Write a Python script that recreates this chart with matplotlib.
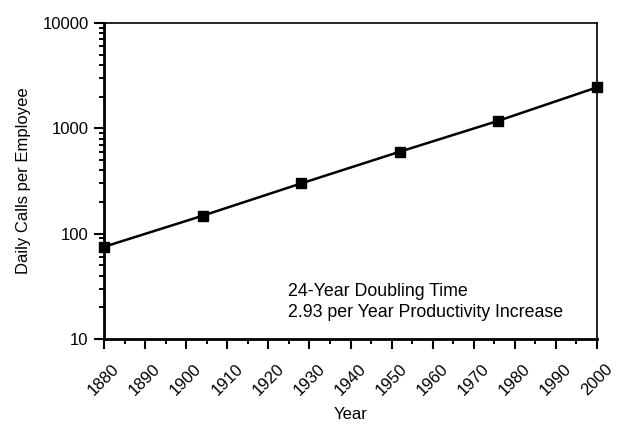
import matplotlib.pyplot as plt
from matplotlib.ticker import MultipleLocator, LogLocator, NullFormatter

plt.rcParams['font.family'] = ['Liberation Sans', 'DejaVu Sans']

years = [1880, 1904, 1928, 1952, 1976, 2000]
calls = [75, 148, 300, 600, 1180, 2450]
y_ticks = [10, 100, 1000, 10000]
y_tick_labels = ['10', '100', '1000', '10000']
note_lines = ['24-Year Doubling Time', '2.93 per Year Productivity Increase']

fig = plt.figure(figsize=(6.2, 4.24), dpi=100)
ax = fig.add_axes([104 / 620, 1 - 339 / 424, 493 / 620, 316 / 424])

ax.plot(years, calls, color='black', linewidth=1.8, marker='s',
        markersize=7, clip_on=False, zorder=3)

ax.set_yscale('log')
ax.set_ylim(10, 10000)
ax.set_xlim(1880, 2000)
ax.set_yticks(y_ticks)
ax.set_yticklabels(y_tick_labels)
ax.yaxis.set_minor_locator(LogLocator(base=10, subs=range(2, 10)))
ax.yaxis.set_minor_formatter(NullFormatter())
ax.xaxis.set_major_locator(MultipleLocator(10))
ax.xaxis.set_minor_locator(MultipleLocator(5))

for lbl in ax.get_xticklabels():
    lbl.set_rotation(45)
    lbl.set_ha('center')
    lbl.set_va('top')

ax.tick_params(axis='both', which='major', direction='out', length=7,
               width=1.5, labelsize=12, color='black')
ax.tick_params(axis='x', which='major', pad=9)
ax.tick_params(axis='y', which='major', pad=4)
ax.tick_params(axis='both', which='minor', direction='out', length=3.8,
               width=1.4, color='black')

ax.spines['left'].set_linewidth(2)
ax.spines['bottom'].set_linewidth(2)
ax.spines['top'].set_linewidth(1.2)
ax.spines['right'].set_linewidth(1.2)

ax.set_xlabel('Year', fontsize=12, labelpad=6)
ax.set_ylabel('Daily Calls per Employee', fontsize=12, labelpad=8)

ax.text(0.373, 0.149, note_lines[0], transform=ax.transAxes,
        fontsize=12.8, ha='left', va='center')
ax.text(0.373, 0.085, note_lines[1], transform=ax.transAxes,
        fontsize=12.8, ha='left', va='center')

fig.savefig('out.png', dpi=100)
